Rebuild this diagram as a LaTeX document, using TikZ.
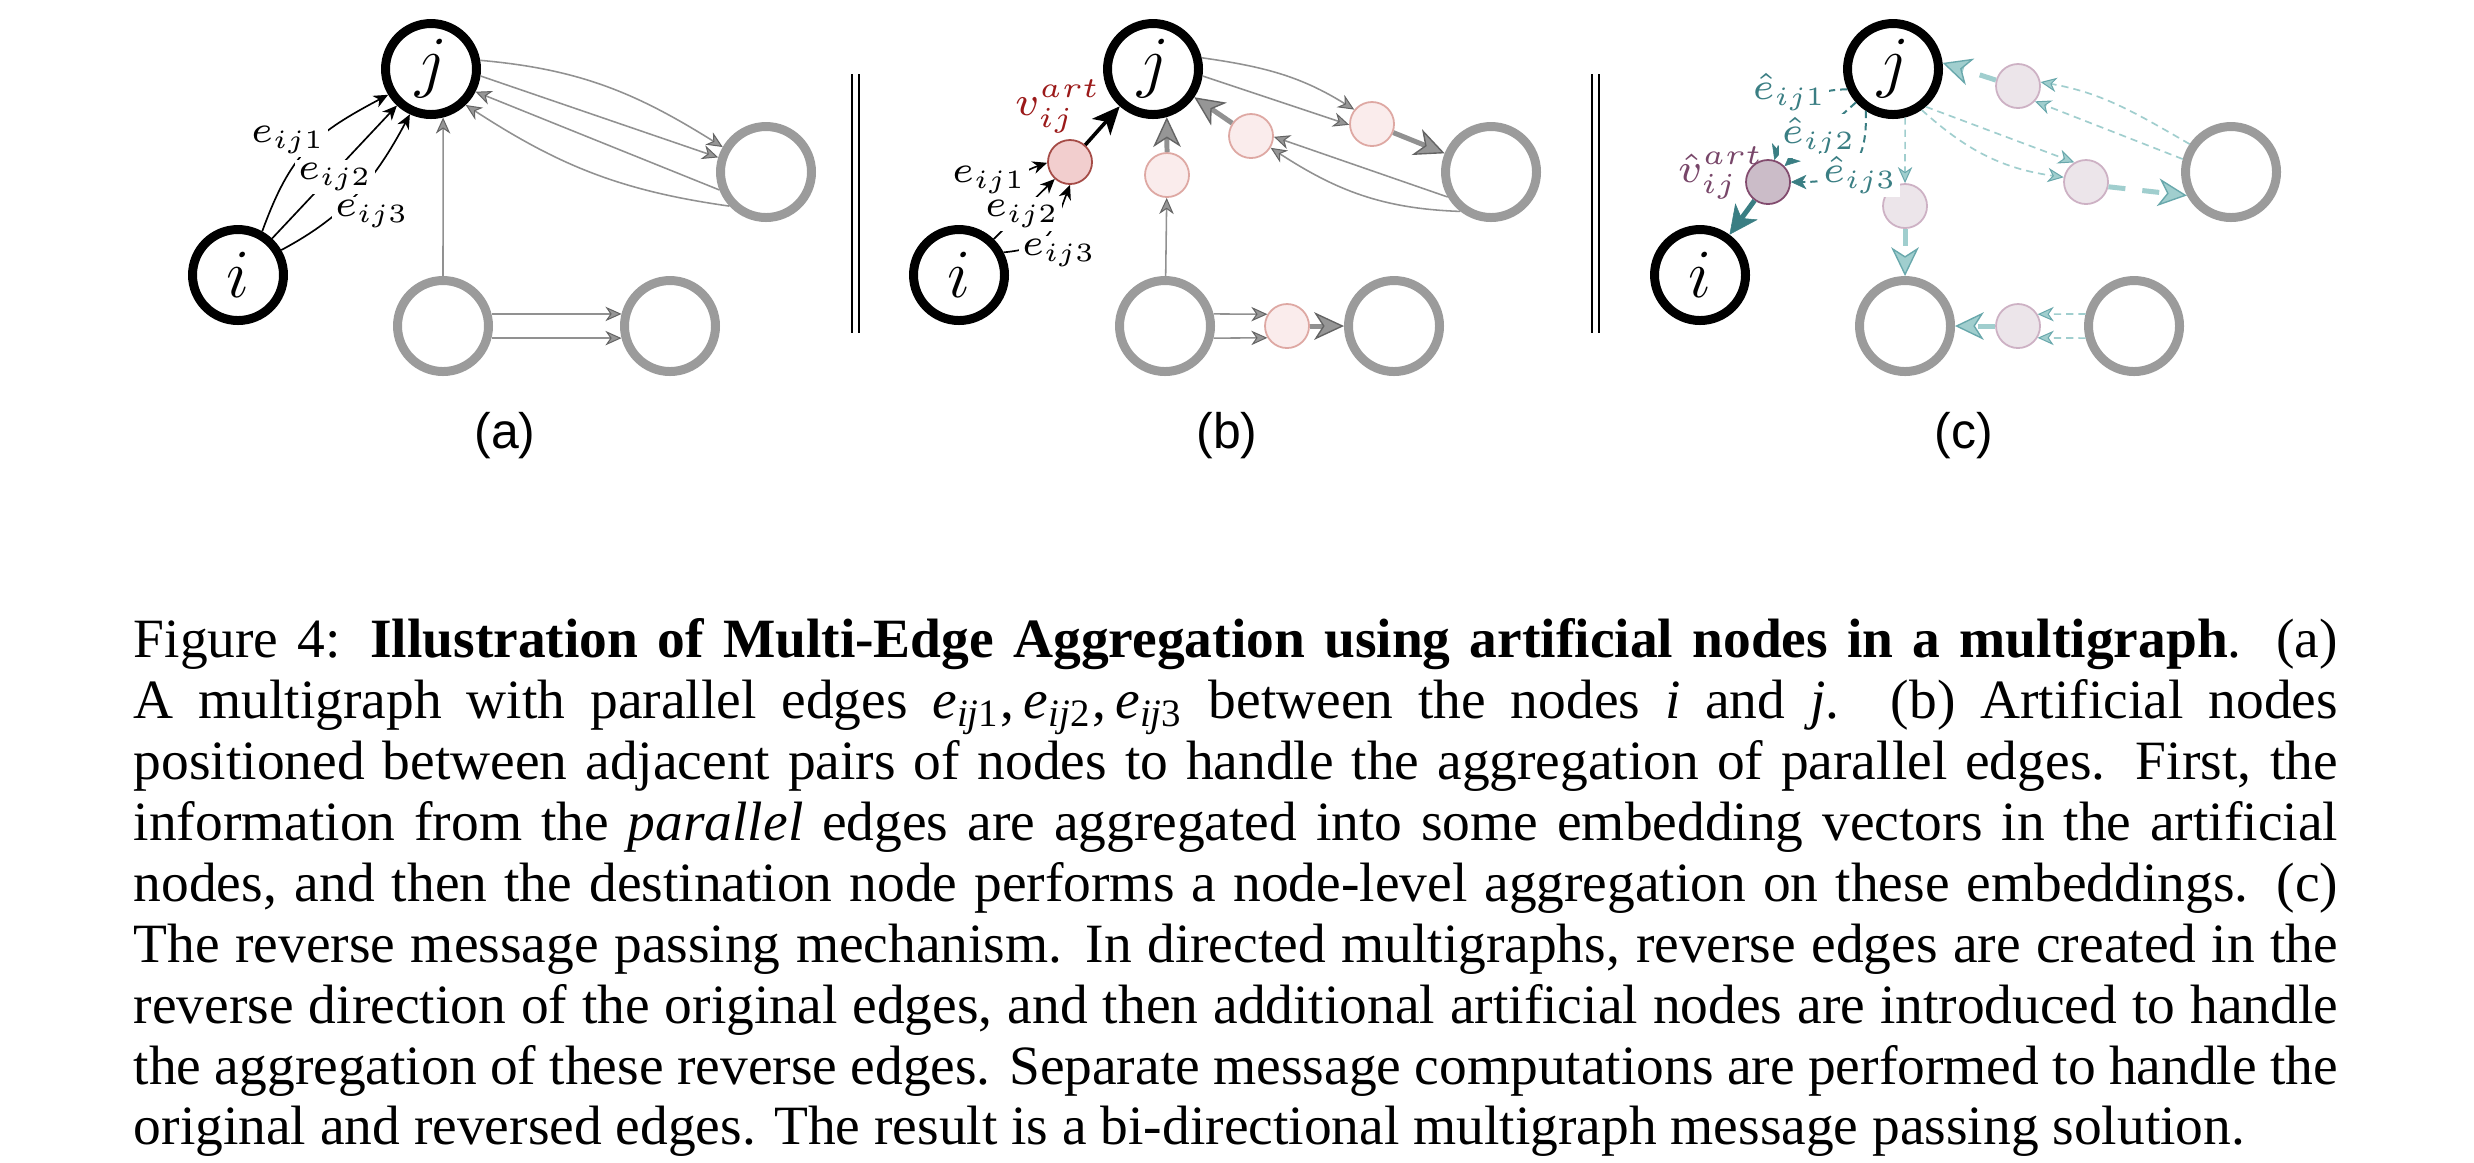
\documentclass[tikz,border=0pt]{standalone}
\usepackage{fix-cm}
\usepackage[no-math]{fontspec}
\setmainfont{Liberation Serif}
\newfontfamily\panelsans{Liberation Sans}
\usetikzlibrary{arrows.meta}

\definecolor{ngray}{RGB}{155,155,155}
\definecolor{egray}{RGB}{145,145,145}
\definecolor{tgrayfill}{RGB}{150,150,150}
\definecolor{tgraydraw}{RGB}{100,100,100}
\definecolor{pinkfill}{RGB}{250,236,236}
\definecolor{pinkdraw}{RGB}{222,168,163}
\definecolor{artfill}{RGB}{242,206,206}
\definecolor{artdraw}{RGB}{165,75,70}
\definecolor{artlab}{RGB}{155,25,25}
\definecolor{mfill}{RGB}{236,229,234}
\definecolor{mdraw}{RGB}{205,177,196}
\definecolor{martfill}{RGB}{203,188,200}
\definecolor{martdraw}{RGB}{130,75,110}
\definecolor{martlab}{RGB}{120,70,105}
\definecolor{dteal}{RGB}{58,126,131}
\definecolor{lteal}{RGB}{160,206,206}
\definecolor{ltealdraw}{RGB}{105,168,172}

\newcommand\capedge[1]{\textit{e}\textsubscript{\textit{ij}#1}}

\tikzset{
  bignode/.style={circle, minimum size=16.41pt, inner sep=0pt, line width=1.62pt,
    font=\fontsize{12.45}{14}\selectfont},
  mainnode/.style={bignode, draw=black},
  othernode/.style={bignode, draw=ngray},
  smallnode/.style={circle, minimum size=7.94pt, inner sep=0pt, line width=0.32pt},
  pinknode/.style={smallnode, draw=pinkdraw, fill=pinkfill},
  artnode/.style={smallnode, draw=artdraw, fill=artfill},
  mnode/.style={smallnode, draw=mdraw, fill=mfill},
  martnode/.style={smallnode, draw=martdraw, fill=martfill},
  elab/.style={fill=white, inner sep=0.5pt, font=\fontsize{6.8}{8}\selectfont},
  hlab/.style={elab, text=dteal},
  vlab/.style={inner sep=0.5pt, font=\fontsize{7.4}{9}\selectfont},
  panellab/.style={inner sep=0pt, font=\panelsans\fontsize{9}{10}\selectfont},
  sepline/.style={line width=0.28pt, draw=black},
  thinblack/.style={line width=0.3pt, -{Stealth[length=2.6pt,width=2.3pt,inset=0.8pt]}},
  thickblack/.style={line width=0.65pt, -{Stealth[length=5pt,width=4.4pt,inset=1.3pt]}},
  thingray/.style={draw=egray, line width=0.28pt,
    -{Stealth[length=2.9pt,width=2.6pt,inset=0.9pt,color=tgraydraw,fill=tgrayfill,line width=0.18pt]}},
  thickgray/.style={draw=egray, line width=0.9pt,
    -{Stealth[length=5.4pt,width=5pt,inset=1.6pt,color=tgraydraw,fill=tgrayfill,line width=0.25pt]}},
  dtealdash/.style={draw=dteal, line width=0.36pt, dash pattern=on 1.3pt off 0.9pt,
    -{Stealth[length=2.8pt,width=2.6pt,inset=0.8pt,color=dteal,fill=dteal,line width=0.1pt]}},
  thickdteal/.style={draw=dteal, line width=0.9pt,
    -{Stealth[length=5.2pt,width=5pt,inset=1.5pt,color=dteal,fill=dteal,line width=0.1pt]}},
  ltealdash/.style={draw=lteal, line width=0.3pt, dash pattern=on 1.3pt off 0.9pt,
    -{Stealth[length=2.9pt,width=2.6pt,inset=0.9pt,color=ltealdraw,fill=lteal,line width=0.18pt]}},
  ltealthick/.style={draw=lteal, line width=0.9pt, dash pattern=on 3.07pt off 3.07pt,
    -{Stealth[length=5.2pt,width=5pt,inset=1.6pt,color=ltealdraw,fill=lteal,line width=0.25pt]}},
}

\begin{document}
\begin{tikzpicture}[x=0.18035pt,y=0.18035pt]
\fill[white] (0,0) rectangle (2474,-1162);
\useasboundingbox (0,0) rectangle (2474,-1162);

% ---------------- panel (a) ----------------
\node[mainnode] (ia) at (238,-275) {$i$};
\node[mainnode] (ja) at (431,-69) {$j$};
\node[othernode] (Ra) at (766,-172) {};
\node[othernode] (BLa) at (443,-326) {};
\node[othernode] (BRa) at (670,-326) {};

\draw[thinblack] (ia.61) to[out=70,in=208,looseness=1.15] (ja.211);
\draw[thinblack] (ia.47) -- (ja.227);
\draw[thinblack] (ia.30) to[out=28,in=242] (ja.245);
\node[elab] (la1) at (288,-140) {$e_{ij1}$};
\node[elab] (la2) at (335,-177) {$e_{ij2}$};
\node[elab] (la3) at (372,-214) {$e_{ij3}$};

\draw[thingray] (ja.10) to[out=-5,in=148] (Ra.150);
\draw[thingray] (ja.-8) -- (Ra.163);
\draw[thingray] (Ra.201) -- (ja.-27);
\draw[thingray] (Ra.223) to[out=172,in=-33] (ja.-46);
\draw[thingray] (BLa.north) -- (ja.-76);
\draw[thingray] (BLa.14) -- (BRa.166);
\draw[thingray] (BLa.-14) -- (BRa.194);

\node[panellab] (capa) at (505,-436) {(a)};

% separator a|b
\draw[sepline] (852,-74) -- (852,-333);
\draw[sepline] (859,-74) -- (859,-333);

% ---------------- panel (b) ----------------
\node[mainnode] (ib) at (959,-275) {$i$};
\node[mainnode] (jb) at (1153,-69) {$j$};
\node[artnode] (vb) at (1070,-162) {};
\node[othernode] (BLb) at (1165,-326) {};
\node[othernode] (BRb) at (1394,-326) {};
\node[othernode] (Rb) at (1491,-172) {};
\node[pinknode] (pb1) at (1167,-175) {};
\node[pinknode] (pb2) at (1251,-136) {};
\node[pinknode] (pb3) at (1372,-124) {};
\node[pinknode] (pb4) at (1287,-326) {};

\draw[thinblack] (ib.62) to[out=73,in=199] (vb.182);
\draw[thinblack] (ib.46) -- (vb.228);
\draw[thinblack] (ib.27) to[out=5,in=249,looseness=1.3] (vb.270);
\node[elab] (lb1) at (989,-180) {$e_{ij1}$};
\node[elab] (lb2) at (1022,-214) {$e_{ij2}$};
\node[elab] (lb3) at (1059,-253) {$e_{ij3}$};
\draw[thickblack] (vb) -- (jb);
\node[vlab, text=artlab] (lvb) at (1058,-106.5) {$v_{ij}^{art}$};

\draw[thingray] (BLb) -- (pb1);
\draw[thickgray] (pb1.north) -- (jb.-74);
\draw[thickgray] (pb2) -- (jb);
\draw[thingray] (jb.13) to[out=-8,in=148] (pb3.141);
\draw[thingray] (jb.-8) -- (pb3.182);
\draw[thickgray] (pb3) -- (Rb);
\draw[thingray] (Rb.210) -- (pb2.-2);
\draw[thingray] (Rb.232) to[out=178,in=-33] (pb2.-31);
\draw[thingray] (BLb.14) -- (pb4.149);
\draw[thingray] (BLb.-14) -- (pb4.211);
\draw[thickgray] (pb4) -- (BRb);

\node[panellab] (capb) at (1227,-436) {(b)};

% separator b|c
\draw[sepline] (1592,-74) -- (1592,-333);
\draw[sepline] (1599,-74) -- (1599,-333);

% ---------------- panel (c) ----------------
\node[mainnode] (ic) at (1700,-275) {$i$};
\node[mainnode] (jc) at (1893,-69) {$j$};
\node[martnode] (vc) at (1768,-182) {};
\node[othernode] (BLc) at (1905,-326) {};
\node[othernode] (BRc) at (2134,-326) {};
\node[othernode] (Rc) at (2231,-172) {};
\node[mnode] (q1) at (1905,-206) {};
\node[mnode] (q2) at (2018,-86) {};
\node[mnode] (q3) at (2086,-182) {};
\node[mnode] (q4) at (2018,-326) {};

\draw[dtealdash] (jc.204) to[out=180,in=73,looseness=1.2] (vc.74);
\draw[dtealdash] (jc.222) -- (vc.44);
\draw[dtealdash] (jc.237) to[out=-88,in=0,looseness=1.4] (vc.0);
\draw[thickdteal] (vc) -- (ic);
\node[hlab] (lc1) at (1789.5,-92) {$\hat{e}_{ij1}$};
\node[hlab] (lc2) at (1818.7,-136) {$\hat{e}_{ij2}$};
\node[hlab] (lc3) at (1860,-175) {$\hat{e}_{ij3}$};
\node[vlab, text=martlab] (lvc) at (1721,-173) {$\hat{v}_{ij}^{art}$};

\draw[ltealdash] (jc.-76) -- (q1.north);
\draw[ltealthick] (q1) -- (BLc);
\draw[ltealthick] (q2.165) -- (jc.7);
\draw[ltealdash] (Rc.146) to[out=150,in=-10] (q2.10);
\draw[ltealdash] (Rc.165) -- (q2.-42);
\draw[ltealdash] (jc.-49) -- (q3.121);
\draw[ltealdash] (jc.-55) to[out=-42,in=172] (q3.168);
\draw[ltealthick] (q3.-12) -- (Rc.208);
\draw[ltealdash] (BRc.166) -- (q4.31);
\draw[ltealdash] (BRc.194) -- (q4.-31);
\draw[ltealthick] (q4) -- (BLc);

\node[panellab] (capc) at (1964,-436) {(c)};

% ---------------- caption ----------------
\node[anchor=base west, inner sep=0pt] (caption) at (132.7,-657) {\parbox[t]{397.5pt}{%
\fontsize{10}{11}\selectfont\tolerance=9999\hyphenpenalty=10000\emergencystretch=10pt
Figure 4: \textbf{Illustration of Multi-Edge Aggregation using artificial nodes in a multigraph}. (a)\linebreak
A multigraph with parallel edges \capedge{1},\,\capedge{2},\,\capedge{3} between the nodes \textit{i} and \textit{j}. (b) Artificial nodes\linebreak
positioned between adjacent pairs of nodes to handle the aggregation of parallel edges. First, the\linebreak
information from the \textit{parallel} edges are aggregated into some embedding vectors in the artificial\linebreak
nodes, and then the destination node performs a node-level aggregation on these embeddings. (c)\linebreak
The reverse message passing mechanism. In directed multigraphs, reverse edges are created in the\linebreak
reverse direction of the original edges, and then additional artificial nodes are introduced to handle\linebreak
the aggregation of these reverse edges. Separate message computations are performed to handle the\linebreak
original and reversed edges. The result is a bi-directional multigraph message passing solution.%
}};
\end{tikzpicture}
\end{document}
